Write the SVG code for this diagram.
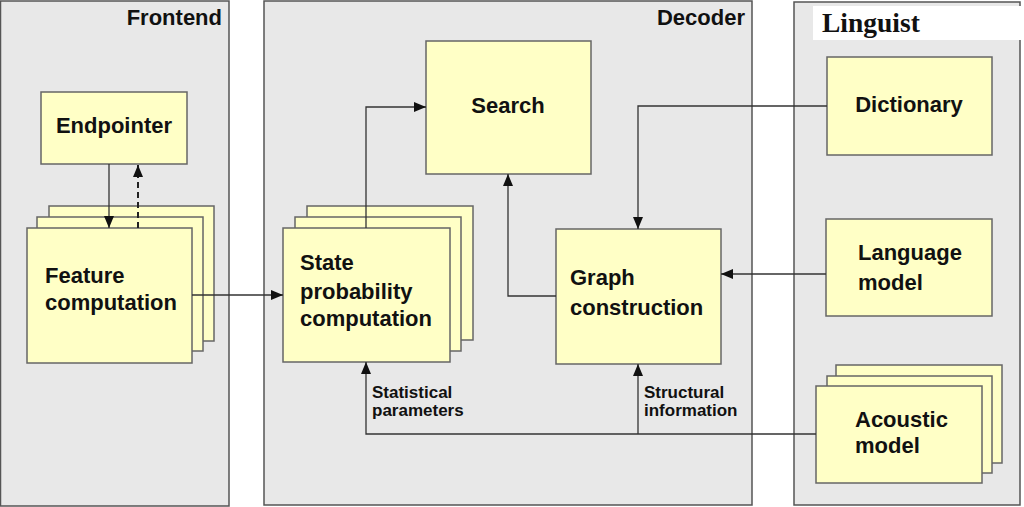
<svg xmlns="http://www.w3.org/2000/svg" width="1024" height="507" viewBox="0 0 1024 507">
<defs>
<style>
.panel{fill:#e8e8e8;stroke:#555;stroke-width:1.5}
.box{fill:#ffffc6;stroke:#666;stroke-width:1.5}
.t{font-family:"Liberation Sans",Arial,sans-serif;font-weight:bold;font-size:22px;fill:#111}
.s{font-family:"Liberation Sans",Arial,sans-serif;font-weight:bold;font-size:17px;fill:#111}
.c{fill:none;stroke:#333;stroke-width:1.3}
.d{fill:none;stroke:#222;stroke-width:2;stroke-dasharray:6 4}
</style>
<marker id="ah" viewBox="0 0 12 10" refX="12" refY="5" markerWidth="12" markerHeight="10" markerUnits="userSpaceOnUse" orient="auto">
<path d="M0,0 L12,5 L0,10 Z" fill="#111"/>
</marker>
</defs>
<rect width="1024" height="507" fill="#fff"/>
<g id="frontend">
<rect class="panel" x="0.5" y="1" width="228.5" height="505"/>
<text class="t" x="222" y="25" text-anchor="end">Frontend</text>
</g>
<g id="decoder">
<rect class="panel" x="264" y="1" width="488" height="504"/>
<text class="t" x="745" y="25" text-anchor="end">Decoder</text>
</g>
<g id="linguist">
<rect class="panel" x="794" y="2" width="226" height="503"/>
<rect x="813" y="6" width="208" height="34" fill="#fff"/>
<text x="822" y="32" font-family="'Liberation Serif','Times New Roman',serif" font-weight="bold" font-size="27.5" fill="#111">Linguist</text>
</g>
<g id="endpointer">
<rect class="box" x="41" y="92" width="146" height="72"/>
<text class="t" x="114" y="133" text-anchor="middle">Endpointer</text>
</g>
<g id="feature">
<rect class="box" x="49" y="206" width="165" height="135"/>
<rect class="box" x="37" y="217" width="166" height="134"/>
<rect class="box" x="27" y="228" width="165" height="135"/>
<text class="t" x="45" y="283">Feature</text>
<text class="t" x="45" y="310">computation</text>
</g>
<g id="search">
<rect class="box" x="426" y="41" width="165" height="133"/>
<text class="t" x="508" y="113" text-anchor="middle">Search</text>
</g>
<g id="state">
<rect class="box" x="307" y="206" width="166" height="134"/>
<rect class="box" x="295" y="217" width="166" height="134"/>
<rect class="box" x="283" y="228" width="167" height="134"/>
<text class="t" x="300" y="270">State</text>
<text class="t" x="300" y="299">probability</text>
<text class="t" x="300" y="326">computation</text>
</g>
<g id="graph">
<rect class="box" x="556" y="229" width="165" height="135"/>
<text class="t" x="570" y="285">Graph</text>
<text class="t" x="570" y="315">construction</text>
</g>
<g id="dictionary">
<rect class="box" x="827" y="57" width="165" height="98"/>
<text class="t" x="909" y="112" text-anchor="middle">Dictionary</text>
</g>
<g id="language">
<rect class="box" x="826" y="219" width="166" height="97"/>
<text class="t" x="858" y="260">Language</text>
<text class="t" x="858" y="290">model</text>
</g>
<g id="acoustic">
<rect class="box" x="836" y="365" width="166" height="98"/>
<rect class="box" x="827" y="376" width="165" height="97"/>
<rect class="box" x="816" y="386" width="166" height="97"/>
<text class="t" x="855" y="427">Acoustic</text>
<text class="t" x="855" y="453">model</text>
</g>
<g id="connectors">
<path class="c" d="M109,164 V228" marker-end="url(#ah)"/>
<path class="d" d="M138,228 V165" marker-end="url(#ah)"/>
<path class="c" d="M192,295 H283" marker-end="url(#ah)"/>
<path class="c" d="M366,228 V107 H426" marker-end="url(#ah)"/>
<path class="c" d="M556,296 H508 V174" marker-end="url(#ah)"/>
<path class="c" d="M827,106 H638 V229" marker-end="url(#ah)"/>
<path class="c" d="M826,274 H721" marker-end="url(#ah)"/>
<path class="c" d="M816,434 H366 V362" marker-end="url(#ah)"/>
<path class="c" d="M638,434 V364" marker-end="url(#ah)"/>
<text class="s" x="372" y="398">Statistical</text>
<text class="s" x="372" y="416">parameters</text>
<text class="s" x="644" y="398">Structural</text>
<text class="s" x="644" y="416">information</text>
</g>
</svg>
